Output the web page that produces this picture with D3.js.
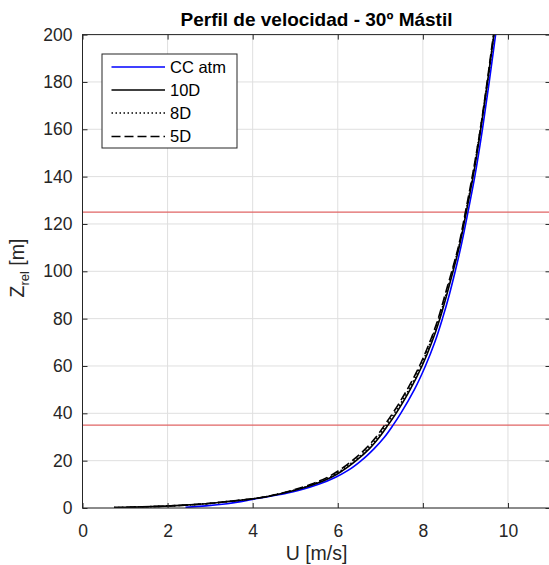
<!DOCTYPE html>
<html><head><meta charset="utf-8">
<script src="https://cdn.jsdelivr.net/npm/d3@7"></script>
<style>
html,body{margin:0;padding:0;background:#fff;}
svg{display:block;font-family:"Liberation Sans",Arial,Helvetica,sans-serif;}
</style></head>
<body><svg id="c" width="549" height="565"></svg>
<script>
// ---- data ----
const xTicks = [0, 2, 4, 6, 8, 10];
const yTicks = [0, 20, 40, 60, 80, 100, 120, 140, 160, 180, 200];
const refHeights = [35, 125];
const seriesNames = ["CC atm", "10D", "8D", "5D"];

const zBlue = [0.25, 0.9, 1.8, 2.8, 4, 6, 8, 10, 13, 16, 20, 25, 30, 35, 40, 50, 60, 70, 80, 90, 100, 110, 125, 140, 160, 180, 200, 210];
const uBlue = [2.42, 2.9, 3.4, 3.75, 4.1, 4.75, 5.2, 5.55, 5.95, 6.25, 6.55, 6.85, 7.10, 7.30, 7.48, 7.80, 8.06, 8.28, 8.46, 8.62, 8.76, 8.89, 9.06, 9.22, 9.40, 9.56, 9.71, 9.78];

const zWake = [0.15, 0.35, 0.7, 1.2, 1.8, 2.8, 4, 6, 8, 10, 13, 16, 20, 25, 30, 35, 40, 50, 60, 70, 80, 90, 100, 110, 125, 140, 160, 180, 200, 210];
const u10D = [0.74, 1.2, 1.8, 2.4, 2.9, 3.45, 4.05, 4.65, 5.1, 5.45, 5.85, 6.13, 6.43, 6.74, 6.98, 7.18, 7.37, 7.70, 7.98, 8.21, 8.40, 8.56, 8.71, 8.85, 9.02, 9.18, 9.36, 9.52, 9.67, 9.74];
const u8D  = [0.74, 1.2, 1.8, 2.4, 2.9, 3.45, 4.05, 4.63, 5.07, 5.42, 5.81, 6.09, 6.39, 6.70, 6.94, 7.14, 7.33, 7.67, 7.95, 8.18, 8.38, 8.54, 8.69, 8.84, 9.01, 9.17, 9.35, 9.52, 9.67, 9.74];
const u5D  = [0.74, 1.2, 1.8, 2.4, 2.9, 3.45, 4.05, 4.61, 5.03, 5.37, 5.76, 6.04, 6.34, 6.65, 6.90, 7.10, 7.29, 7.63, 7.92, 8.16, 8.36, 8.52, 8.68, 8.83, 9.00, 9.16, 9.35, 9.51, 9.66, 9.74];

// ---- layout ----
const L = 82.5, R = 550.5, T = 34.6, B = 508;
const axisColor = "#262626";
const svg = d3.select("#c");
const x = d3.scaleLinear().domain([0, 11]).range([L, R]);
const y = d3.scaleLinear().domain([0, 200]).range([B, T]);

svg.append("defs").append("clipPath").attr("id", "clip")
  .append("rect").attr("x", L).attr("y", T).attr("width", R - L).attr("height", B - T);

// grid
const grid = svg.append("g");
grid.selectAll("line.gx").data(xTicks).join("line")
  .attr("x1", d => x(d)).attr("x2", d => x(d)).attr("y1", T).attr("y2", B)
  .attr("stroke", "#dfdfdf").attr("stroke-width", 1);
grid.selectAll("line.gy").data(yTicks).join("line")
  .attr("y1", d => y(d)).attr("y2", d => y(d)).attr("x1", L).attr("x2", R)
  .attr("stroke", "#dfdfdf").attr("stroke-width", 1);

// reference lines
svg.append("g").selectAll("line").data(refHeights).join("line")
  .attr("x1", L).attr("x2", R).attr("y1", d => y(d)).attr("y2", d => y(d))
  .attr("stroke", "#e06464").attr("stroke-width", 1.2);

// series
const mk = (zs, us) => zs.map((z, i) => ({z, u: us[i]}));
const series = [
  {name: seriesNames[0], data: mk(zBlue, uBlue), color: "#0000ff", dash: null},
  {name: seriesNames[1], data: mk(zWake, u10D), color: "#000000", dash: null},
  {name: seriesNames[2], data: mk(zWake, u8D), color: "#000000", dash: "1.5,2.5"},
  {name: seriesNames[3], data: mk(zWake, u5D), color: "#000000", dash: "9,4"}
];
const line = d3.line().x(d => x(d.u)).y(d => y(d.z)).curve(d3.curveMonotoneY);
const lg = svg.append("g").attr("clip-path", "url(#clip)");
series.forEach(s => {
  lg.append("path").datum(s.data).attr("d", line)
    .attr("fill", "none").attr("stroke", s.color).attr("stroke-width", 1.6)
    .attr("stroke-dasharray", s.dash);
});

// axes (MATLAB style, ticks inward, box on)
const tl = 5;
const ax = svg.append("g");
const xb = d3.axisBottom(x).tickValues(xTicks).tickSizeInner(-tl).tickSizeOuter(0).tickPadding(17);
const yl = d3.axisLeft(y).tickValues(yTicks).tickSizeInner(-tl).tickSizeOuter(0).tickPadding(10);
const gx = ax.append("g").attr("transform", `translate(0,${B})`).call(xb);
const gy = ax.append("g").attr("transform", `translate(${L},0)`).call(yl);
const gxt = ax.append("g").attr("transform", `translate(0,${T})`).call(d3.axisTop(x).tickValues(xTicks).tickSizeInner(-tl).tickSizeOuter(0).tickFormat(""));
const gyr = ax.append("g").attr("transform", `translate(${R},0)`).call(d3.axisRight(y).tickValues(yTicks).tickSizeInner(-tl).tickSizeOuter(0).tickFormat(""));
[gx, gy, gxt, gyr].forEach(g => {
  g.select(".domain").remove();
  g.selectAll("line").attr("stroke", axisColor);
  g.selectAll("text").attr("fill", "#262626").style("font-size", "17.5px").style("font-family", '"Liberation Sans",Arial,sans-serif');
});
gx.selectAll("text").attr("dy", "0.71em");
// box
ax.append("rect").attr("x", L).attr("y", T).attr("width", R - L).attr("height", B - T)
  .attr("fill", "none").attr("stroke", axisColor).attr("stroke-width", 1);

// title
svg.append("text").attr("x", (L + R) / 2).attr("y", 26).attr("text-anchor", "middle")
  .style("font-size", "19px").style("font-weight", "bold").attr("fill", "#000")
  .text("Perfil de velocidad - 30º Mástil");

// x label
svg.append("text").attr("x", (L + R) / 2).attr("y", 560).attr("text-anchor", "middle")
  .style("font-size", "19.5px").attr("fill", "#262626").text("U [m/s]");

// y label
const ylab = svg.append("text").attr("transform", "translate(24,268) rotate(-90)")
  .attr("text-anchor", "middle").style("font-size", "19.5px").attr("fill", "#262626");
ylab.append("tspan").text("Z");
ylab.append("tspan").attr("dy", 5).style("font-size", "13px").text("rel");
ylab.append("tspan").attr("dy", -5).text(" [m]");

// legend
const leg = svg.append("g");
leg.append("rect").attr("x", 102).attr("y", 54).attr("width", 135).attr("height", 94)
  .attr("fill", "#fff").attr("stroke", axisColor).attr("stroke-width", 1);
const legY = [67, 90, 113, 136.5];
series.forEach((s, i) => {
  leg.append("line").attr("x1", 111.5).attr("x2", 165).attr("y1", legY[i]).attr("y2", legY[i])
    .attr("stroke", s.color).attr("stroke-width", 1.6).attr("stroke-dasharray", s.dash);
  leg.append("text").attr("x", 170).attr("y", legY[i]).attr("dy", "0.36em")
    .style("font-size", "16.5px").attr("fill", "#000").text(s.name);
});
</script></body></html>
